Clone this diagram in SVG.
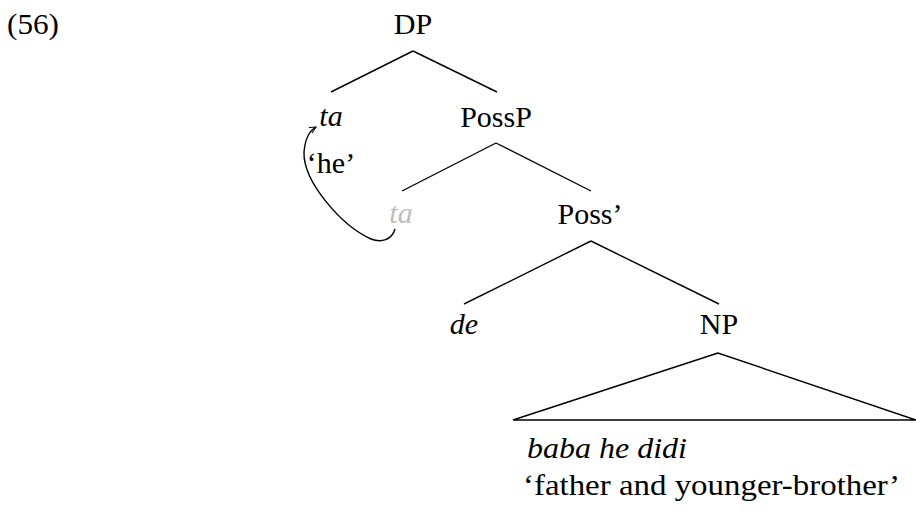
<svg xmlns="http://www.w3.org/2000/svg" width="916" height="515" viewBox="0 0 916 515">
<defs>
<style>
text{font-family:"Liberation Serif","Noto Serif","Times New Roman",Times,FreeSerif,"DejaVu Serif",serif;font-size:30px;fill:#000}
.c{text-anchor:middle}
.i{font-style:italic}
.g{fill:#bdbdbd}
.ln{stroke:#000;stroke-width:1.4;fill:none}
</style>
<marker id="ah" viewBox="0 0 10 10" refX="9" refY="5" markerWidth="8" markerHeight="8" orient="auto" markerUnits="userSpaceOnUse">
<path d="M1,1 L9,5 L1,9" fill="none" stroke="#000" stroke-width="1.3"/>
</marker>
</defs>
<rect width="916" height="515" fill="#fff"/>
<text x="7" y="34" textLength="52" lengthAdjust="spacingAndGlyphs">(56)</text>
<g id="connectors">
<path class="ln" d="M413,51 L331,92 M413,51 L497,92"/>
<path class="ln" d="M496,143 L402,191 M496,143 L591,191"/>
<path class="ln" d="M591,241 L464,304 M591,241 L719,304"/>
<path class="ln" d="M718,353 L513,420 L916,420 Z"/>
<path class="ln" d="M395,229 C392,240 381,243 371,239 C342,226 303,182 304,152 C305,140 309,131 316,127" marker-end="url(#ah)"/>
</g>
<g id="DP"><text class="c" x="413" y="34">DP</text></g>
<g id="ta"><text class="c i" x="331" y="126">ta</text><text class="c" x="331" y="173">‘he’</text></g>
<g id="PossP"><text class="c" x="496" y="127">PossP</text></g>
<g id="ta-trace"><text class="c i g" x="401" y="223">ta</text></g>
<g id="Possbar"><text class="c" x="590" y="224">Poss’</text></g>
<g id="de"><text class="c i" x="464" y="334">de</text></g>
<g id="NP"><text class="c" x="719" y="334">NP</text>
<text class="i" x="527" y="458" textLength="160" lengthAdjust="spacingAndGlyphs">baba he didi</text>
<text x="523" y="495" textLength="377" lengthAdjust="spacingAndGlyphs">‘father and younger-brother’</text></g>
</svg>
